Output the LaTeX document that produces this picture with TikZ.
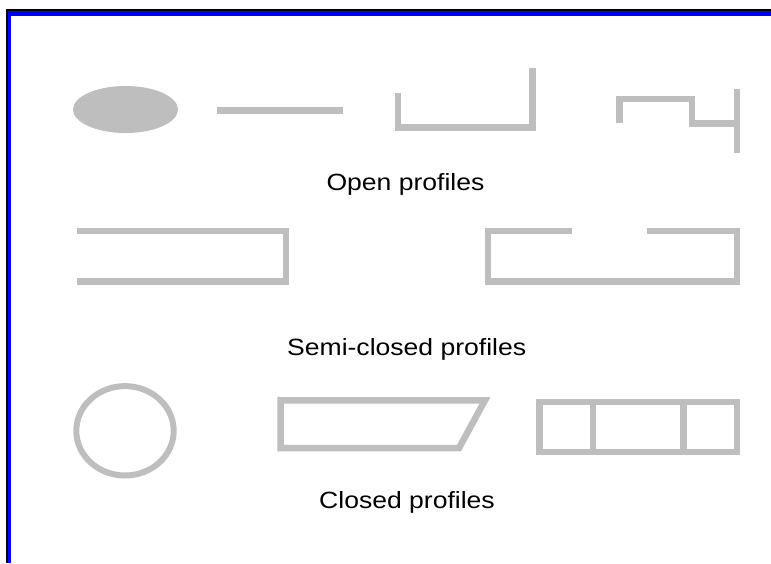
\documentclass[tikz,border=0pt]{standalone}
\usepackage{fontspec}
\setmainfont{Liberation Sans}
\newfontfamily\lblfont[FakeStretch=1.13]{Liberation Sans}
\definecolor{profgray}{RGB}{190,190,190}
\definecolor{frameblue}{RGB}{0,0,255}
\tikzset{
  prof/.style={draw=profgray, line width=6.5pt, line join=miter, line cap=butt},
  lbl/.style={anchor=base, inner sep=0pt, font=\lblfont\fontsize{23.5pt}{28pt}\selectfont}
}
\begin{document}
\begin{tikzpicture}[x=1pt,y=-1pt]
\useasboundingbox (0,0) rectangle (771,563);
\fill[white] (0,0) rectangle (771,563);
% frame
\fill[black] (6,9) rectangle (771,11);
\fill[black] (6,9) rectangle (8,563);
\fill[frameblue] (8,11) rectangle (771,15.5);
\fill[frameblue] (8,11) rectangle (11,563);
% open profiles
\fill[profgray] (125.5,109.5) ellipse [x radius=52.5, y radius=23.5];
\draw[prof, line width=7pt] (217,110.5) -- (343,110.5);
\draw[prof] (398,93) -- (398,127.5) -- (532.5,127.5) -- (532.5,68);
\draw[prof] (619.7,123) -- (619.7,98.8) -- (692,98.8) -- (692,123.7) -- (737,123.7);
\draw[prof] (737,89) -- (737,153);
\node[lbl] (open) at (405.5,190) {Open profiles};
% semi-closed profiles
\draw[prof] (76.7,231) -- (286,231) -- (286,281.3) -- (76.7,281.3);
\draw[prof] (572,231) -- (488,231) -- (488,281.7) -- (737,281.7) -- (737,231) -- (646.7,231);
\node[lbl] (semi) at (406.7,355) {Semi-closed profiles};
% closed profiles
\draw[prof, line width=6pt] (125,430.8) ellipse [x radius=48.7, y radius=44.7];
\draw[prof] (280.7,400.3) -- (485,400.3) -- (459,448) -- (280.7,448) -- cycle;
\draw[prof] (539.7,402) rectangle (737,452);
\draw[prof] (593,402) -- (593,452);
\draw[prof] (683.7,402) -- (683.7,452);
\node[lbl] (closed) at (407,508) {Closed profiles};
\end{tikzpicture}
\end{document}
